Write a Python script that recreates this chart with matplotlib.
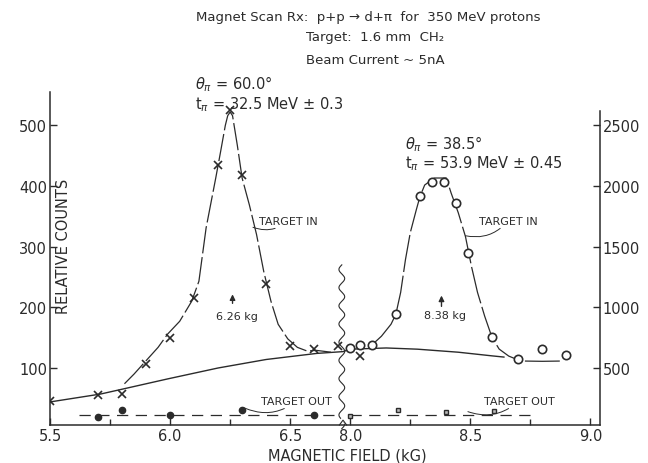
import numpy as np
import matplotlib.pyplot as plt

plt.rcParams['font.family'] = ['DejaVu Sans']
INK = '#2b2b2b'

# target in, left peak (x marks, left axis)
x_in1 = [5.5, 5.7, 5.8, 5.9, 6.0, 6.1, 6.2, 6.25, 6.3, 6.4, 6.5, 6.6, 6.7, 8.04]
y_in1 = [46, 56, 57, 107, 150, 216, 435, 525, 418, 238, 136, 131, 136, 120]

# hand drawn curve through the left peak
cx1 = [5.81, 5.85, 5.9, 5.95, 5.99, 6.04, 6.09, 6.12, 6.15, 6.19, 6.21, 6.23, 6.24,
       6.25, 6.26, 6.28, 6.30, 6.33, 6.36, 6.39, 6.42, 6.45, 6.49, 6.53, 6.57, 6.61, 6.67]
cy1 = [74, 90, 112, 134, 156, 177, 210, 243, 331, 413, 456, 500, 516,
       522, 516, 467, 413, 369, 320, 259, 210, 172, 148, 134, 128, 129, 126]

# target in, right peak (circles, right axis)
x_in2 = [8.0, 8.04, 8.09, 8.19, 8.29, 8.34, 8.39, 8.44, 8.49, 8.59, 8.70, 8.80, 8.90]
y_in2 = [665, 690, 690, 943, 1915, 2033, 2033, 1861, 1451, 754, 574, 656, 607]

cx2 = [8.09, 8.13, 8.17, 8.19, 8.21, 8.23, 8.25, 8.275, 8.29, 8.31, 8.35, 8.40, 8.42,
       8.45, 8.48, 8.505, 8.53, 8.56, 8.59, 8.62, 8.66, 8.69]
cy2 = [689, 762, 861, 943, 1123, 1393, 1615, 1803, 1910, 2008, 2066, 2066, 1943,
       1779, 1582, 1336, 1123, 926, 754, 656, 598, 574]
cx2b = [8.73, 8.80, 8.87]
cy2b = [557, 555, 557]

# smooth background curve (left axis)
bx = [5.5, 5.71, 5.80, 5.99, 6.2, 6.4, 6.61, 6.72, 8.0, 8.15, 8.28, 8.45, 8.59, 8.64]
by = [44, 57, 65, 82, 100, 114, 124, 127, 131, 133, 131, 126, 120, 118]

# target out
x_out1 = [5.7, 5.8, 6.0, 6.3, 6.6]
y_out1 = [20, 30, 23, 31, 23]
x_out2 = [8.0, 8.2, 8.4, 8.6]
y_out2 = [107, 150, 140, 148]


def fwd(x):
    x = np.asarray(x, dtype=float)
    return np.where(x <= 6.75, x, np.where(x >= 8.0, x - 1.25, 6.75))


def inv(u):
    u = np.asarray(u, dtype=float)
    return np.where(u <= 6.75, u, u + 1.25)


fig = plt.figure(figsize=(6.48, 4.64), dpi=100)
ax = fig.add_axes([50 / 648, 1 - 426 / 464, 550 / 648, 333 / 464])
ax.set_xscale('function', functions=(fwd, inv))
ax.set_xlim(5.5, 9.04)
ax.set_ylim(6, 555)
ax2 = ax.twinx()
ax2.set_ylim(30, 2775)

for a in (ax, ax2):
    for s in a.spines.values():
        s.set_color(INK)
        s.set_linewidth(1.1)
    a.tick_params(direction='in', colors=INK, labelsize=10.5, length=5, width=1)
    a.tick_params(which='minor', direction='in', length=4, width=1, colors=INK)
ax.spines['top'].set_visible(False)
ax2.spines['top'].set_visible(False)
ax.spines['right'].set_visible(False)
ax2.spines['left'].set_visible(False)
ax2.spines['bottom'].set_visible(False)
ax2.spines['right'].set_bounds(30, 2615)

ax.set_xticks([5.5, 6.0, 6.5, 8.0, 8.5, 9.0])
ax.set_xticklabels(['5.5', '6.0', '6.5', '8.0', '8.5', '9.0'])
ax.set_xticks([5.75, 6.25, 8.25, 8.75], minor=True)
ax.set_yticks([100, 200, 300, 400, 500])
ax2.set_yticks([500, 1000, 1500, 2000, 2500])
ax.tick_params(axis='x', pad=2)
ax.tick_params(axis='y', pad=2)
ax2.tick_params(axis='y', pad=2)

lw = 0.9
ax.plot(cx1, cy1, color=INK, lw=lw, dashes=(22, 3))
ax.plot(bx, by, color=INK, lw=1.0)
ax.plot(x_in1, y_in1, 'x', color=INK, ms=5.5, mew=1.2)
ax2.plot(cx2, cy2, color=INK, lw=lw, dashes=(30, 3))
ax2.plot(cx2b, cy2b, color=INK, lw=lw)
ax2.plot(x_in2, y_in2, 'o', mfc='white', mec=INK, ms=6, mew=1.2)

ax.plot([5.62, 6.71], [23, 23], color=INK, lw=lw, dashes=(9, 6))
ax.plot(x_out1, y_out1, 'o', color=INK, ms=4.5)
ax2.plot([7.97, 8.75], [112, 112], color=INK, lw=lw, dashes=(9, 6))
ax2.plot(x_out2, y_out2, 's', mfc='#bbbbbb', mec=INK, ms=3.5, mew=1.0)

# axis break
t = np.linspace(0, 1, 200)
wy = 270 * t
wx = 6.715 + 0.012 * np.sin(t * 2 * np.pi * 9)
ax.plot(wx, wy, color=INK, lw=0.8, clip_on=False)
ax.plot([6.70, 6.72, 6.74], [6, 16, 6], color='white', lw=2.5, clip_on=False)
ax.plot([6.705, 6.72, 6.735], [6, 14, 6], color=INK, lw=0.8, clip_on=False)

# text
fs = 10.5
ax.text(6.104, 569, r'$\theta_\pi$ = 60.0°', fontsize=fs, color=INK, va='center')
ax.text(6.104, 536, r't$_\pi$ = 32.5 MeV ± 0.3', fontsize=fs, color=INK, va='center')
ax.text(8.23, 470, r'$\theta_\pi$ = 38.5°', fontsize=fs, color=INK, va='center')
ax.text(8.23, 438, r't$_\pi$ = 53.9 MeV ± 0.45', fontsize=fs, color=INK, va='center')

lead = dict(arrowstyle='-', color=INK, lw=0.7, connectionstyle='arc3,rad=-0.3',
            shrinkA=0, shrinkB=0)
ax.annotate('TARGET IN', xy=(6.345, 332), xytext=(6.37, 343), fontsize=8, color=INK,
            va='center', arrowprops=lead)
ax.annotate('TARGET IN', xy=(8.48, 318), xytext=(8.535, 343), fontsize=8, color=INK,
            va='center', arrowprops=lead)
ax.annotate('TARGET OUT', xy=(6.31, 34), xytext=(6.38, 46), fontsize=8, color=INK,
            va='center', arrowprops=lead)
ax.annotate('TARGET OUT', xy=(8.49, 28), xytext=(8.555, 46), fontsize=8, color=INK,
            va='center', arrowprops=lead)

ax.annotate('', xy=(6.26, 226), xytext=(6.26, 202),
            arrowprops=dict(arrowstyle='-|>', color=INK, lw=1.0, mutation_scale=8))
ax.text(6.28, 185, '6.26 kg', fontsize=8, color=INK, ha='center', va='center')
ax.annotate('', xy=(8.38, 224), xytext=(8.38, 197),
            arrowprops=dict(arrowstyle='-|>', color=INK, lw=1.0, mutation_scale=8))
ax.text(8.395, 187, '8.38 kg', fontsize=8, color=INK, ha='center', va='center')

ax.text(0.024, 0.54, 'RELATIVE COUNTS', transform=ax.transAxes, rotation=90,
        fontsize=10.5, color=INK, ha='center', va='center')
fig.text(347 / 648, 1 - 456 / 464, 'MAGNETIC FIELD (kG)', fontsize=10.5, color=INK,
         ha='center', va='center')

fig.text(368 / 648, 1 - 18 / 464, 'Magnet Scan Rx:  p+p → d+π  for  350 MeV protons',
         fontsize=9.5, color=INK, ha='center', va='center')
fig.text(375 / 648, 1 - 37 / 464, 'Target:  1.6 mm  CH₂', fontsize=9.5, color=INK,
         ha='center', va='center')
fig.text(375 / 648, 1 - 61 / 464, 'Beam Current ~ 5nA', fontsize=9.5, color=INK,
         ha='center', va='center')

fig.savefig('out.png', dpi=100)
